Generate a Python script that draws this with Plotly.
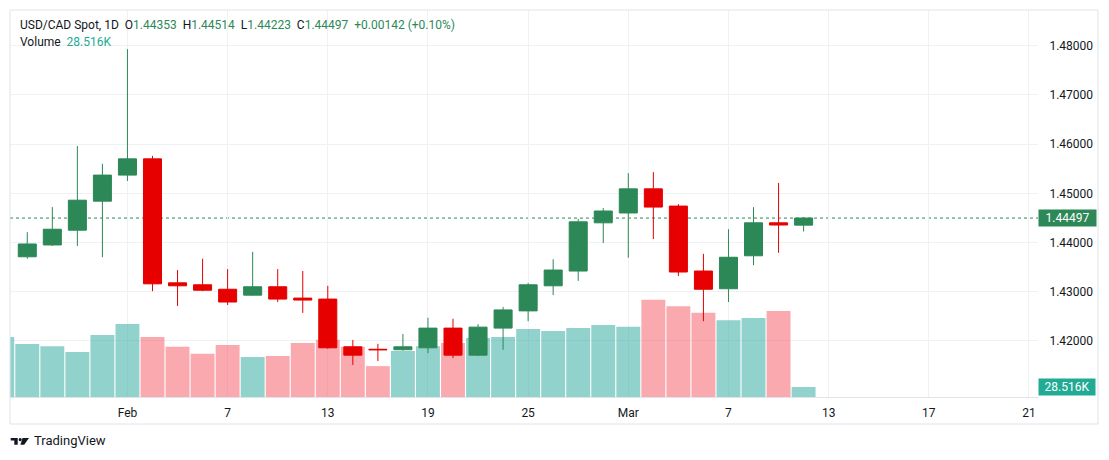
import plotly.graph_objects as go

# daily USD/CAD candles, Jan 28 - Mar 12 (index 0 = Jan 28)
opens = [1.4371, 1.4395, 1.4425, 1.4484, 1.4537, 1.4570, 1.4318, 1.4314, 1.4305, 1.4293,
         1.4310, 1.4287, 1.4285, 1.4188, 1.4183, 1.4182, 1.4186, 1.4226, 1.4171, 1.4226,
         1.4261, 1.4312, 1.4342, 1.4440, 1.4460, 1.4509, 1.4474, 1.4342, 1.4306, 1.4373,
         1.4440, 1.44353]
highs = [1.4421, 1.4472, 1.4596, 1.4560, 1.4793, 1.4576, 1.4344, 1.4367, 1.4346, 1.4381,
         1.4346, 1.4342, 1.4312, 1.4202, 1.4194, 1.4214, 1.4247, 1.4245, 1.4234, 1.4269,
         1.4318, 1.4366, 1.4448, 1.4470, 1.4541, 1.4543, 1.4478, 1.4377, 1.4427, 1.4472,
         1.4521, 1.44514]
lows = [1.4367, 1.4393, 1.4393, 1.4370, 1.4525, 1.4301, 1.4271, 1.4301, 1.4273, 1.4292,
        1.4279, 1.4257, 1.4184, 1.4151, 1.4159, 1.4180, 1.4175, 1.4165, 1.4169, 1.4182,
        1.4240, 1.4293, 1.4322, 1.4399, 1.4369, 1.4407, 1.4332, 1.4240, 1.4279, 1.4354,
        1.4379, 1.44223]
closes = [1.4397, 1.4427, 1.4486, 1.4537, 1.4570, 1.4316, 1.4312, 1.4303, 1.4279, 1.4310,
          1.4285, 1.4283, 1.4186, 1.4171, 1.4182, 1.4188, 1.4226, 1.4171, 1.4228, 1.4263,
          1.4314, 1.4344, 1.4442, 1.4464, 1.4509, 1.4472, 1.4340, 1.4305, 1.4370, 1.4440,
          1.44355, 1.44497]

# volume starts one day earlier (Jan 27, only a sliver of it is on screen)
volumes = [171000, 151000, 145000, 128000, 177000, 208000, 171000, 143000, 123000, 148000,
           114000, 117000, 154000, 163000, 143000, 88000, 131000, 145000, 154000, 168000,
           171000, 194000, 188000, 197000, 205000, 200000, 277000, 259000, 240000, 219000,
           225000, 245000, 28516]
vol_up = [True] + [c >= o for o, c in zip(opens, closes)]

tick_pos = [4, 8, 12, 16, 20, 24, 28, 32, 36, 40]
tick_text = ["Feb", "7", "13", "19", "25", "Mar", "7", "13", "17", "21"]
price_ticks = [1.42, 1.43, 1.44, 1.45, 1.46, 1.47, 1.48]

GREEN = "#2c8857"
RED = "#e60000"
TEAL = "#22ab94"
TEXT = "#131722"
GRID = "#eff1f5"
BORDER = "#e0e3eb"
FONT = "Roboto"

idx = list(range(len(opens)))
vol_idx = list(range(-1, len(opens)))

# pane in pixels: left 10, right 1038, top 10, bottom 397
PL, PR, PT, PB = 10, 1038, 10, 397


def fx(p):
    return (p - PL) / (PR - PL)


def fy(p):
    return (PB - p) / (PB - PT)


fig = go.Figure()

fig.add_trace(go.Bar(
    x=vol_idx, y=volumes, yaxis="y", width=0.955,
    marker=dict(color=["rgba(38,166,154,0.5)" if u else "rgba(245,83,95,0.5)" for u in vol_up],
                line=dict(width=0)),
    hoverinfo="skip",
))

fig.add_trace(go.Candlestick(
    x=idx, open=opens, high=highs, low=lows, close=closes, yaxis="y2",
    increasing=dict(line=dict(color=GREEN, width=1), fillcolor=GREEN),
    decreasing=dict(line=dict(color=RED, width=1), fillcolor=RED),
    whiskerwidth=0,
))

last_close = closes[-1]
chg = closes[-1] - closes[-2]
pct = chg / closes[-2] * 100


def g(v):
    return f'<span style="color:{GREEN}">{v}</span>'


sp = "\u00a0\u00a0"
header = (f"USD/CAD Spot, 1D{sp}O{g(f'{opens[-1]:.5f}')}{sp}H{g(f'{highs[-1]:.5f}')}"
          f"{sp}L{g(f'{lows[-1]:.5f}')}{sp}C{g(f'{closes[-1]:.5f}')}"
          f"{sp}{g(f'{chg:+.5f} ({pct:+.2f}%)')}")
vol_txt = f"{volumes[-1] / 1000:.3f}K"

annotations = [
    dict(x=fx(18), y=fy(25), xref="paper", yref="paper", xanchor="left", yanchor="middle",
         text=header, showarrow=False, font=dict(size=12, color=TEXT, family=FONT)),
    dict(x=fx(18), y=fy(42), xref="paper", yref="paper", xanchor="left", yanchor="middle",
         text=f'Volume{sp}<span style="color:{TEAL}">{vol_txt}</span>', showarrow=False,
         font=dict(size=12, color=TEXT, family=FONT)),
    dict(x=1, y=last_close, xref="paper", yref="y2", xanchor="left", yanchor="middle",
         text=f"{last_close:.5f}", showarrow=False, bgcolor=GREEN, width=57, height=16,
         borderpad=0, font=dict(size=12, color="white", family=FONT)),
    dict(x=1, y=volumes[-1], xref="paper", yref="y", xanchor="left", yanchor="middle",
         text=vol_txt, showarrow=False, bgcolor=TEAL, width=56, height=16,
         borderpad=0, font=dict(size=12, color="white", family=FONT)),
    dict(x=fx(32), y=fy(441), xref="paper", yref="paper", xanchor="left", yanchor="middle",
         text="TradingView", showarrow=False, font=dict(size=13, color=TEXT, family=FONT)),
]

shapes = [
    # outer frame of the widget
    dict(type="rect", xref="paper", yref="paper", x0=fx(10), x1=fx(1098), y0=fy(424), y1=fy(10),
         line=dict(color=BORDER, width=1)),
    # last price line
    dict(type="line", xref="paper", yref="y2", x0=0, x1=1, y0=last_close, y1=last_close,
         line=dict(color=GREEN, width=1, dash="dot"), layer="between"),
    # TradingView logo
    dict(type="path", xref="paper", yref="paper", fillcolor=TEXT, line=dict(width=0),
         path=f"M{fx(10.7)},{fy(438)} L{fx(17.7)},{fy(438)} L{fx(17.7)},{fy(444.7)} "
              f"L{fx(14.3)},{fy(444.7)} L{fx(14.3)},{fy(440.6)} L{fx(10.7)},{fy(440.6)} Z"),
    dict(type="circle", xref="paper", yref="paper", fillcolor=TEXT, line=dict(width=0),
         x0=fx(18.6), x1=fx(21.8), y0=fy(441.2), y1=fy(438)),
    dict(type="path", xref="paper", yref="paper", fillcolor=TEXT, line=dict(width=0),
         path=f"M{fx(22.6)},{fy(438)} L{fx(29)},{fy(438)} L{fx(24.2)},{fy(444.7)} "
              f"L{fx(20.4)},{fy(444.7)} Z"),
]

fig.update_layout(
    width=1109, height=460,
    margin=dict(l=PL, r=1109 - PR, t=PT, b=460 - PB),
    paper_bgcolor="white", plot_bgcolor="white",
    showlegend=False, hovermode=False,
    barmode="overlay", boxgap=0.28, boxgroupgap=0,
    font=dict(family=FONT, color=TEXT, size=12),
    xaxis=dict(range=[-0.69, 40.36], tickvals=tick_pos, ticktext=tick_text,
               showgrid=True, gridcolor=GRID, zeroline=False, showline=True, linecolor=BORDER,
               ticks="outside", ticklen=5, tickcolor="rgba(0,0,0,0)",
               tickfont=dict(size=12, color=TEXT), rangeslider=dict(visible=False)),
    yaxis=dict(range=[0, 387 * 2851.6], visible=False, showgrid=False, zeroline=False),
    yaxis2=dict(overlaying="y", side="right", range=[1.408598, 1.487256], tickvals=price_ticks,
                tickformat=".5f", showgrid=True, gridcolor=GRID, zeroline=False,
                ticks="outside", ticklen=8, tickcolor="rgba(0,0,0,0)",
                tickfont=dict(size=12, color=TEXT)),
    annotations=annotations,
    shapes=shapes,
)

fig.write_html("out.html", config={"displayModeBar": False},
               post_script="document.body.style.margin='0';")
